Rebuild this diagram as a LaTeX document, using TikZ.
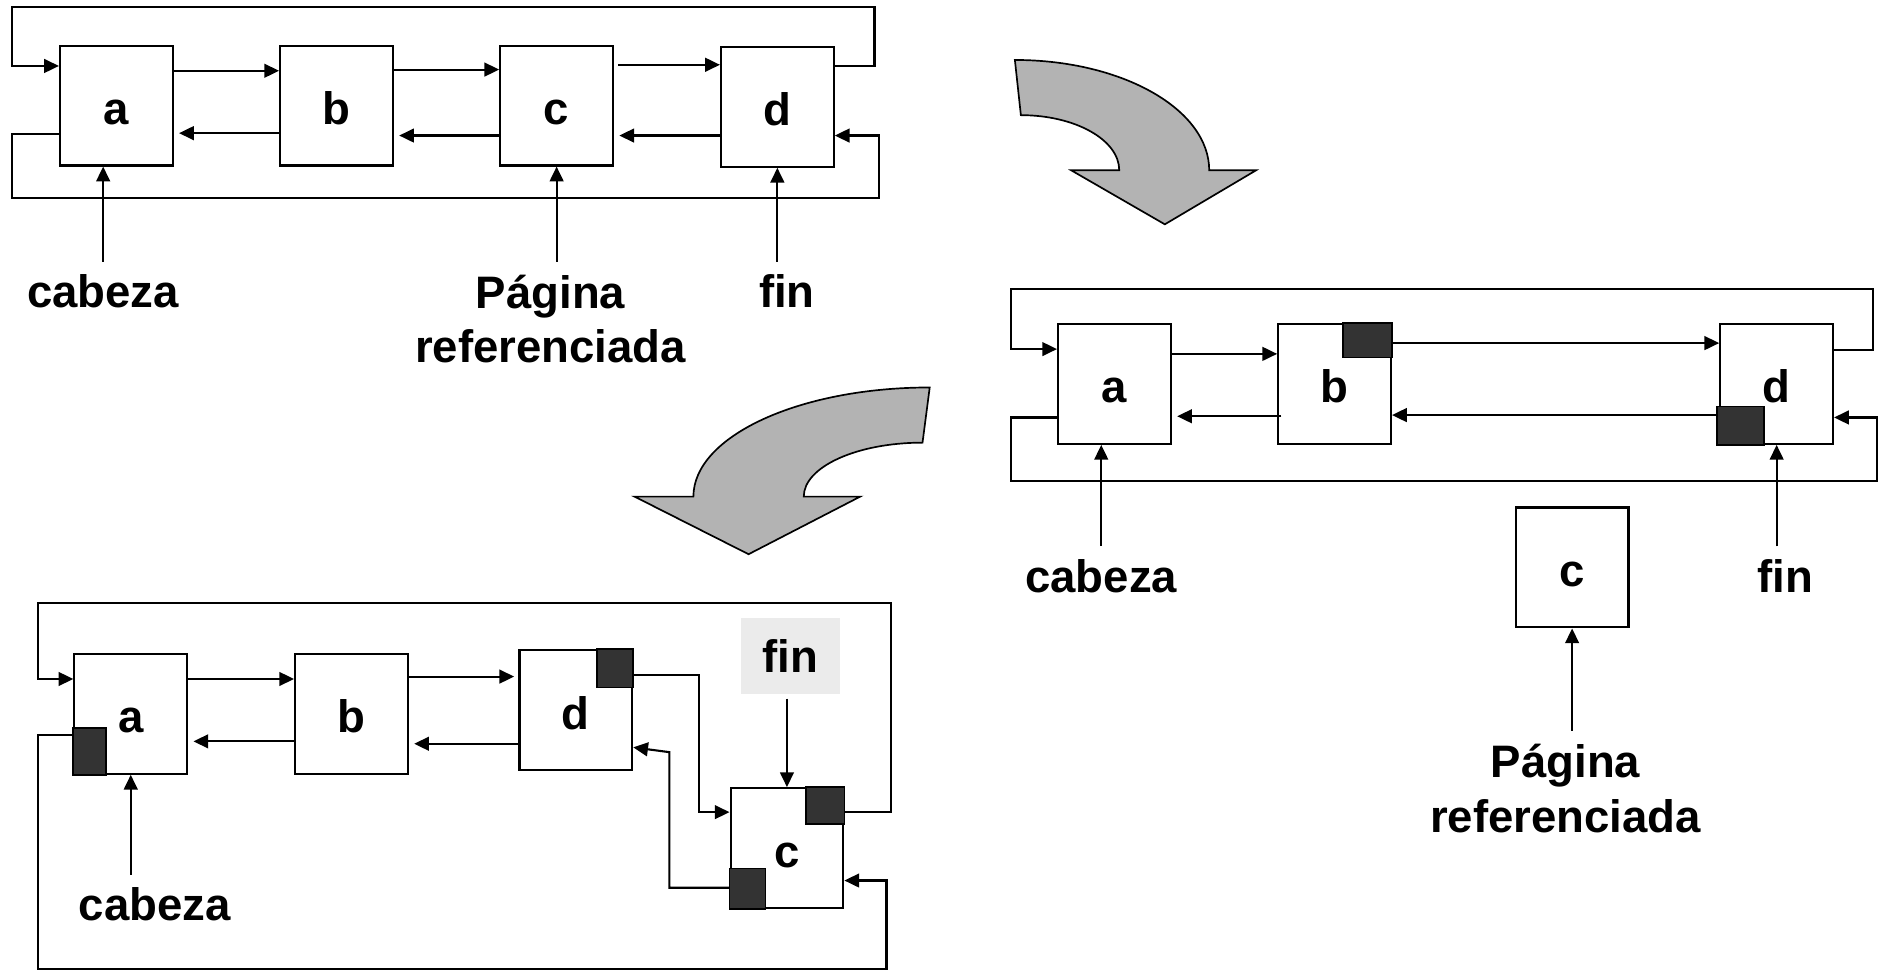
\documentclass[tikz,border=0pt]{standalone}
\usepackage{fontspec}
\setmainfont{Liberation Sans}
\usetikzlibrary{arrows.meta}
\definecolor{slot}{RGB}{51,51,51}
\definecolor{swoop}{RGB}{179,179,179}
\definecolor{haze}{RGB}{235,235,235}
\newcommand\lblfont{\fontsize{21.6}{26}\selectfont\bfseries}
\tikzset{
  page/.style={draw,line width=1pt,fill=white,minimum width=1.88cm,minimum height=2cm,inner sep=0pt,
    text height=18pt,text depth=0pt,font=\lblfont},
  lbl/.style={font=\lblfont,align=center,inner sep=6pt},
  ar/.style={-{Triangle[length=7pt,width=6.5pt]},line width=1pt},
  back/.style={ar,shorten >=2.5pt},
  usedbit/.style={draw,fill=slot,line width=0.8pt},
  swoop/.style={draw,fill=swoop,line width=0.8pt}
}
\begin{document}
\begin{tikzpicture}[x=0.02cm,y=-0.02cm]
    \useasboundingbox (0,0) rectangle (1568,810);
    % curved arrows
    \draw[swoop] (846,50) -- (851,96) arc[start angle=-90,end angle=0,x radius=82,y radius=46]
      -- (893,142) -- (971,187) -- (1047,142) -- (1008,142)
      arc[start angle=0,end angle=-90,x radius=162,y radius=92] -- cycle;
    \draw[swoop] (775,323) -- (769,369) arc[start angle=-90,end angle=-180,x radius=99,y radius=45]
      -- (717,414) -- (624,462) -- (529,414) -- (578,414)
      arc[start angle=180,end angle=270,x radius=197,y radius=91] -- cycle;

    % list 1
    \foreach \n/\x/\y in {a/97/88,b/280.5/88,c/464/88,d/648/89}
      \node[page] (\n1) at (\x,\y) {\n};
    \node[lbl] (cab1) at (86,243) {cabeza};
    \node[lbl] (pag1) at (459,266) {Página\\referenciada};
    \node[lbl] (fin1) at (656,243) {fin};
    \draw[ar] (d1.east |- 0,55) -| (729,6) -| (10,55) -- (a1.west |- 0,55);
    \draw[ar] (a1.east |- 0,59) -- (b1.west |- 0,59);
    \draw[ar] (b1.east |- 0,58) -- (c1.west |- 0,58);
    \draw[ar] ([xshift=2pt]c1.east |- 0,54) -- (d1.west |- 0,54);
    \draw[back] (b1.west |- 0,111) -- (a1.east |- 0,111);
    \draw[back] (c1.west |- 0,113) -- (b1.east |- 0,113);
    \draw[back] (d1.west |- 0,113) -- (c1.east |- 0,113);
    \draw[ar] (a1.west |- 0,112) -| (10,165) -| (733,113) -- (d1.east |- 0,113);
    \draw[ar] (cab1.north) -- (cab1.north |- a1.south);
    \draw[ar] (pag1.north -| c1) -- (c1.south);
    \draw[ar] (fin1.north -| d1) -- (d1.south);

    % list 2
    \foreach \n/\x/\y in {a/929/320,b/1112.5/320,d/1481/320,c/1310.5/473}
      \node[page] (\n2) at (\x,\y) {\n};
    \draw[usedbit] (b2.north east) rectangle ++(-41,29);
    \draw[usedbit] ([xshift=-1pt]d2.south west) rectangle ++(39,-32);
    \node[lbl] (cab2) at (918,480) {cabeza};
    \node[lbl] (fin2) at (1488,480) {fin};
    \node[lbl] (pag2) at (1305,657) {Página\\referenciada};
    \draw[ar] (d2.east |- 0,292) -| (1561,241) -| (843,291) -- (a2.west |- 0,291);
    \draw[ar] (a2.east |- 0,295) -- (b2.west |- 0,295);
    \draw[ar] (b2.east |- 0,286) -- (d2.west |- 0,286);
    \draw[back] ([xshift=2pt]b2.west |- 0,347) -- (a2.east |- 0,347);
    \draw[ar] ([xshift=-1pt]d2.west |- 0,346) -- (b2.east |- 0,346);
    \draw[ar] (a2.west |- 0,348) -| (843,401) -| (1565,348) -- (d2.east |- 0,348);
    \draw[ar] (cab2.north) -- (cab2.north |- a2.south);
    \draw[ar] (fin2.north -| d2) -- (d2.south);
    \draw[ar] (pag2.north -| c2) -- (c2.south);

    % list 3
    \foreach \n/\x/\y in {a/109/595,b/293/595,d/480/592,c/656/707}
      \node[page] (\n3) at (\x,\y) {\n};
    \draw[usedbit] (a3.south west) rectangle ++(27,-39);
    \draw[usedbit] (d3.north east) rectangle ++(-30,32);
    \draw[usedbit] (c3.north east) rectangle ++(-32,31);
    \draw[usedbit] (c3.south west) rectangle ++(30,-34);
    \node[lbl] (cab3) at (129,754) {cabeza};
    \node[font=\lblfont,fill=haze,minimum width=1.66cm,minimum height=1.26cm,inner sep=0pt] (fin3) at (659,547) {fin};
    \draw[ar] (c3.east |- 0,677) -| (743,503) -| (32,566) -- (a3.west |- 0,566);
    \draw[ar] (a3.east |- 0,566) -- (b3.west |- 0,566);
    \draw[ar] (b3.east |- 0,564) -- ([xshift=-2pt]d3.west |- 0,564);
    \draw[ar] (d3.east |- 0,563) -| (583,677) -- (c3.west |- 0,677);
    \draw[back] (b3.west |- 0,618) -- (a3.east |- 0,618);
    \draw[back] (d3.west |- 0,620) -- (b3.east |- 0,620);
    \draw[ar] (c3.west |- 0,740) -| (558,627) -- (d3.east |- 0,623);
    \draw[ar] (a3.west |- 0,613) -| (32,808) -| (739,734) -- (c3.east |- 0,734);
    \draw[ar] (cab3.north -| a3) -- (a3.south);
    \draw[ar] ([yshift=-2pt]fin3.south -| c3) -- (c3.north);
\end{tikzpicture}
\end{document}
